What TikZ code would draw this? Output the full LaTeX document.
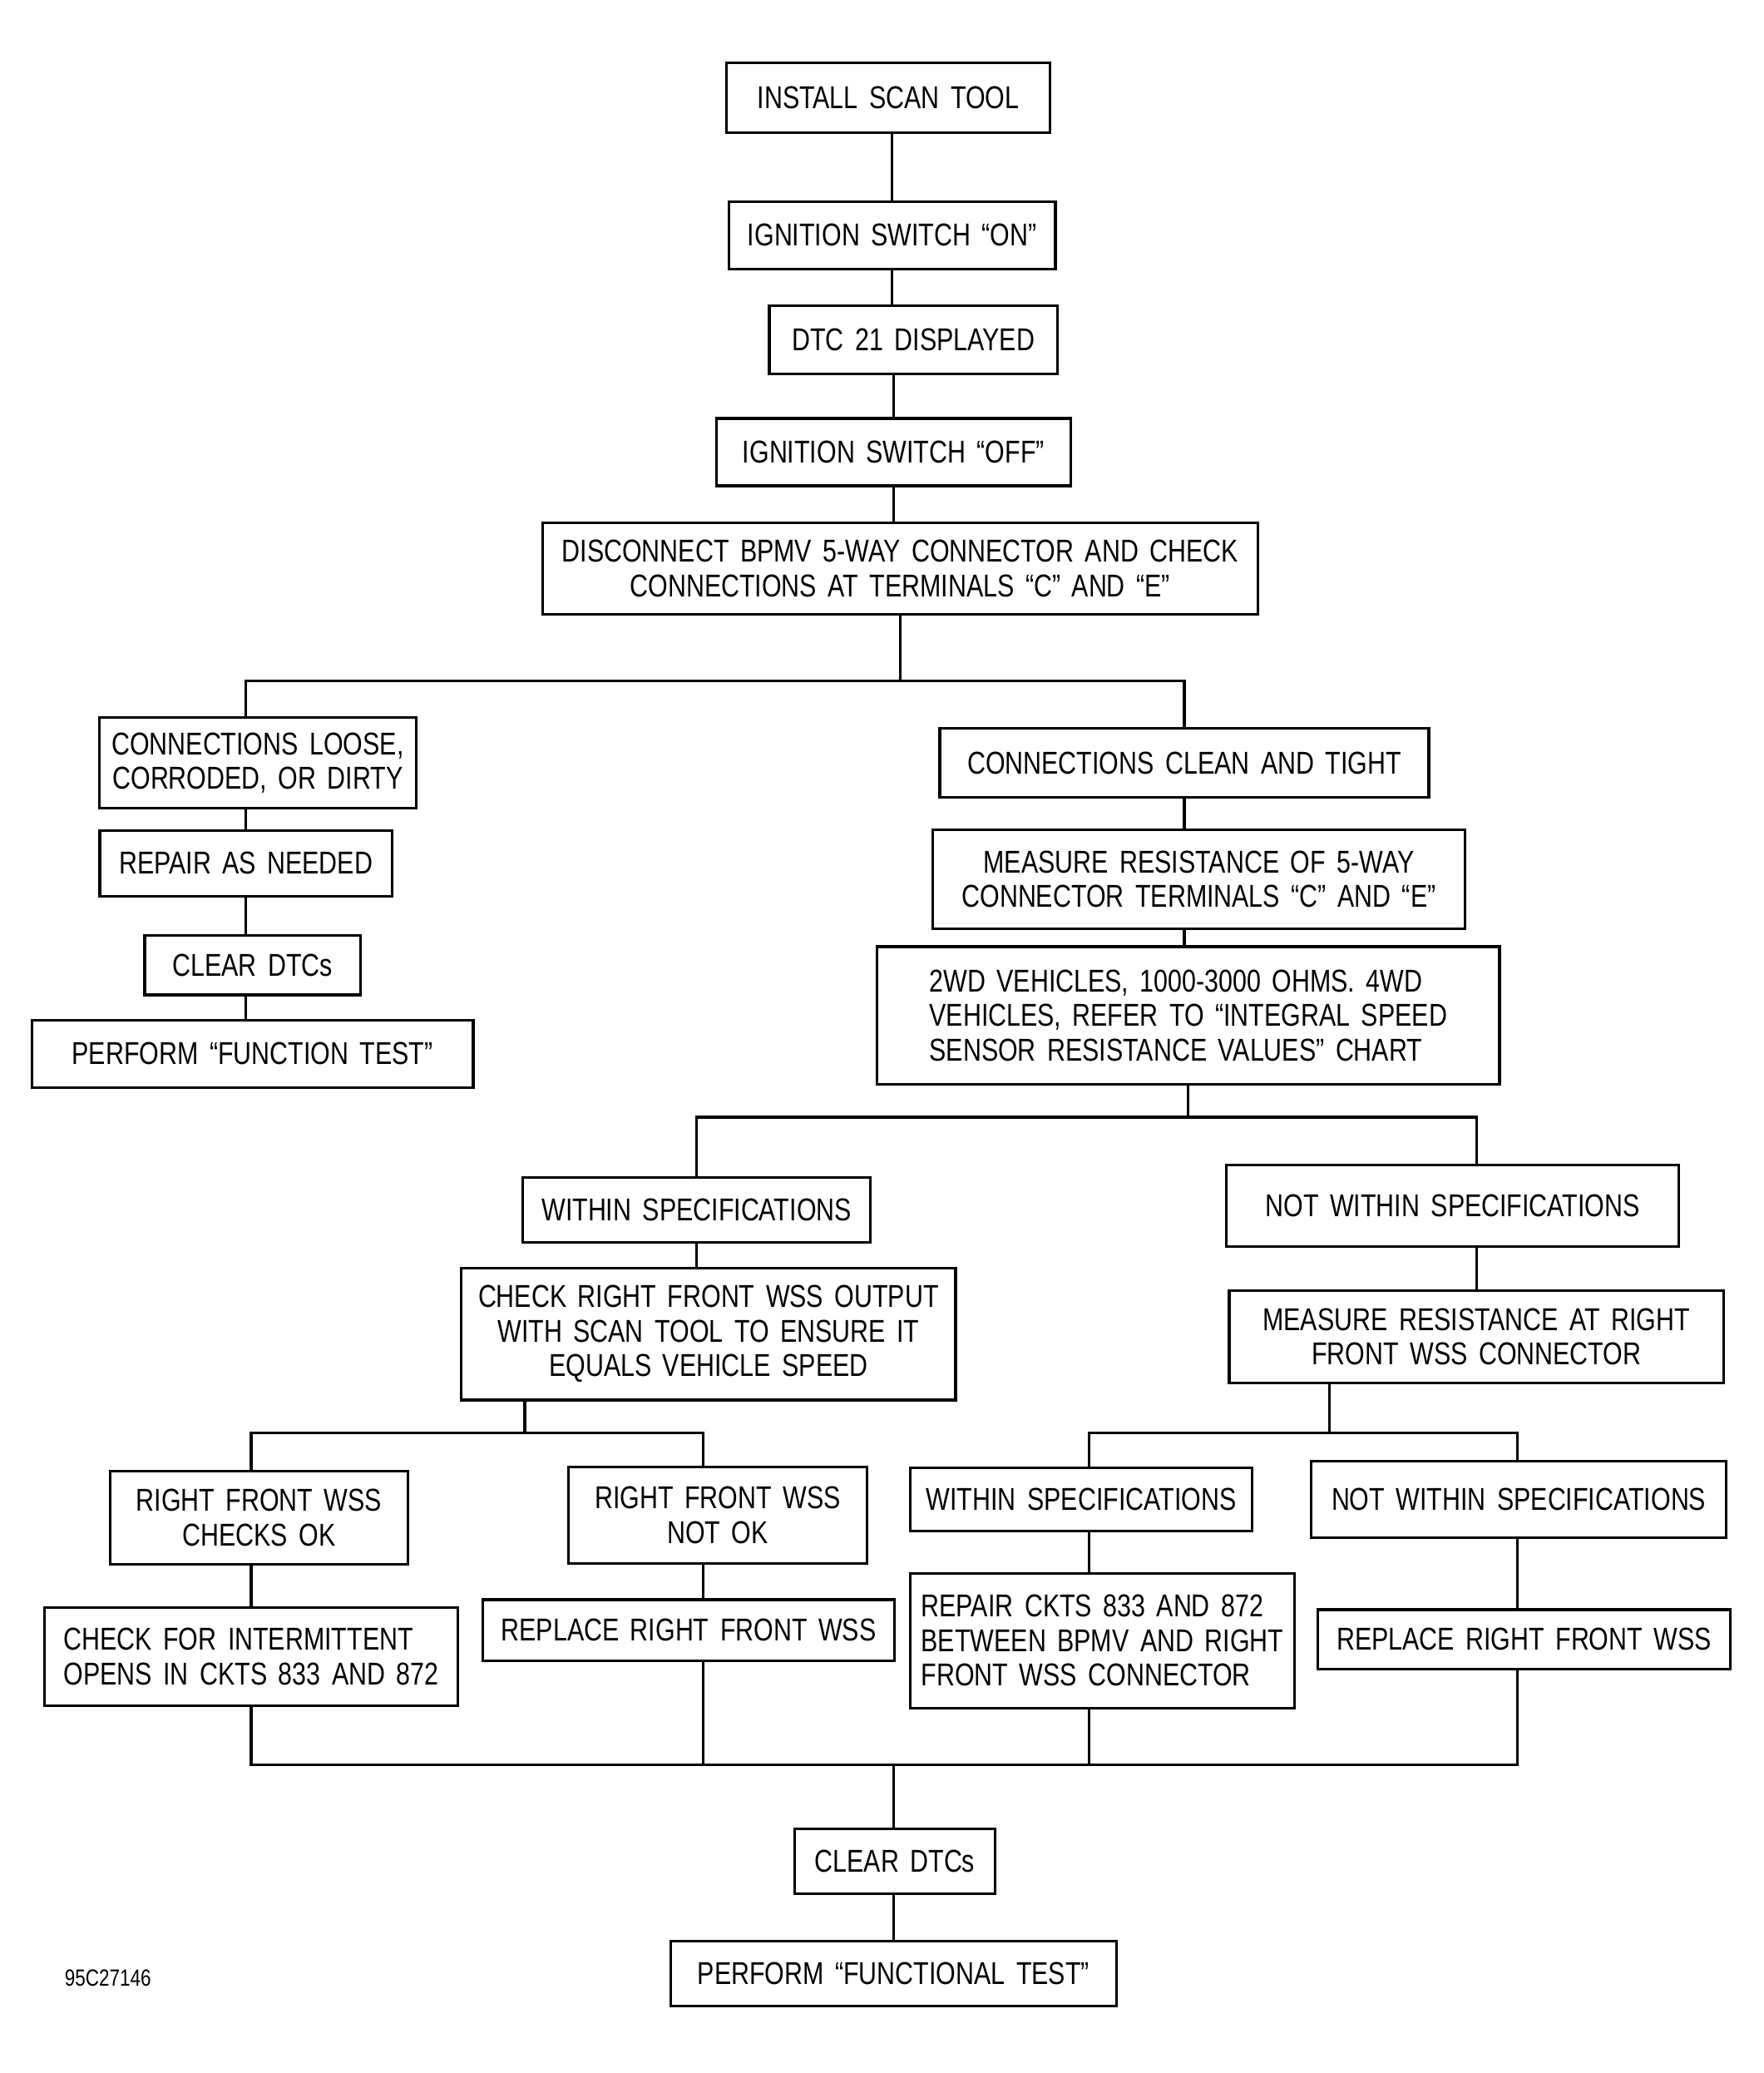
\documentclass[tikz,border=0pt]{standalone}
\usepackage{fontspec}
\setmainfont{Liberation Sans}[FakeStretch=0.8,WordSpace=1.6]
\usepackage{tikz}

\begin{document}
\begin{tikzpicture}[x=0.01589cm, y=-0.01589cm, line width=0.9pt,
  box/.style 2 args={draw, minimum width=#1*0.01589cm, minimum height=#2*0.01589cm,
    inner sep=0pt, align=center, font=\fontsize{10.8}{11.8}\selectfont},
  lbox/.style 2 args={box={#1}{#2}, align=left}]
 \useasboundingbox (0,0) rectangle (1334,1568);

    %Top chain
    \node[box={245}{53}] (install) at (672,74) {INSTALL SCAN TOOL};
    \node[box={247}{51}] (ignon) at (675,178) {IGNITION SWITCH “ON”};
    \node[box={218}{52}] (dtc) at (691,257) {DTC 21 DISPLAYED};
    \node[box={268}{51}] (ignoff) at (676,342) {IGNITION SWITCH “OFF”};
    \node[box={541}{69}] (disc) at (681,430) {DISCONNECT BPMV 5-WAY CONNECTOR AND CHECK\\CONNECTIONS AT TERMINALS “C” AND “E”};
    \draw (ignon) -- (ignon |- install.south);
    \draw (ignon) -- (ignon |- dtc.north);
    \draw (ignoff) -- (ignoff |- dtc.south);
    \draw (ignoff) -- (ignoff |- disc.north);

    % Left branch
    \node[box={240}{69}] (loose) at (195,577) {CONNECTIONS LOOSE,\\CORRODED, OR DIRTY};
    \node[box={221}{50}] (repair) at (186,653) {REPAIR AS NEEDED};
    \node[box={163}{45}] (clearA) at (191,730) {CLEAR DTCs};
    \node[box={334}{51}] (performA) at (191,797) {PERFORM “FUNCTION TEST”};
    \draw (repair) -- (repair |- loose.south);
    \draw (repair) -- (repair |- clearA.north);
    \draw (repair |- clearA.south) -- (repair |- performA.north);

    % Right branch
    \node[box={370}{52}] (clean) at (896,577) {CONNECTIONS CLEAN AND TIGHT};
    \node[box={403}{75}] (measureA) at (907,665) {MEASURE RESISTANCE OF 5-WAY\\CONNECTOR TERMINALS “C” AND “E”};
    \node[lbox={471}{104}] (values) at (899,768) {2WD VEHICLES, 1000-3000 OHMS. 4WD\\VEHICLES, REFER TO “INTEGRAL SPEED\\SENSOR RESISTANCE VALUES” CHART};
    \draw (clean) -- (clean |- measureA.north);
    \draw (clean |- measureA.south) -- (clean |- values.north);

    % first split
    \coordinate (s1) at (681,515);
    \draw (disc) -- (s1);
    \draw (repair |- loose.north) |- (s1) -| (clean);

    % Spec checks
    \node[box={263}{49}] (withinA) at (527,915) {WITHIN SPECIFICATIONS};
    \node[box={374}{100}] (output) at (536,1009) {CHECK RIGHT FRONT WSS OUTPUT\\WITH SCAN TOOL TO ENSURE IT\\EQUALS VEHICLE SPEED};
    \node[box={342}{62}] (notwithinA) at (1099,912) {NOT WITHIN SPECIFICATIONS};
    \node[box={374}{70}] (measureB) at (1117,1011) {MEASURE RESISTANCE AT RIGHT\\FRONT WSS CONNECTOR};
    \draw (withinA) -- (withinA |- output.north);
    \draw (measureB) -- (measureB |- notwithinA.south);

    \coordinate (s2) at (899,845);
    \draw (values) -- (s2);
    \draw (withinA) |- (s2) -| (measureB |- notwithinA.north);

    % Lower left
    \node[box={225}{70}] (checksok) at (196,1148) {RIGHT FRONT WSS\\CHECKS OK};
    \node[lbox={313}{74}] (intermit) at (190,1253) {CHECK FOR INTERMITTENT\\OPENS IN CKTS 833 AND 872};
    \node[box={226}{73}] (notok) at (543,1146) {RIGHT FRONT WSS\\NOT OK};
    \node[box={311}{46}] (replaceA) at (521,1233) {REPLACE RIGHT FRONT WSS};

    \coordinate (s3) at (397,1084);
    \coordinate (s3a) at (190,1084);
    \coordinate (s3b) at (532,1084);
    \draw (s3 |- output.south) -- (s3);
    \draw (s3a |- checksok.north) -- (s3a) -- (s3b) -- (s3b |- notok.north);
    \draw (s3a |- checksok.south) -- (s3a |- intermit.north);
    \draw (s3b |- notok.south) -- (s3b |- replaceA.north);

    % Lower right
    \node[box={259}{48}] (withinB) at (818,1134) {WITHIN SPECIFICATIONS};
    \node[lbox={291}{102}] (repckts) at (834,1241) {REPAIR CKTS 833 AND 872\\BETWEEN BPMV AND RIGHT\\FRONT WSS CONNECTOR};
    \node[box={314}{58}] (notwithinB) at (1149,1134) {NOT WITHIN SPECIFICATIONS};
    \node[box={312}{45}] (replaceB) at (1153,1240) {REPLACE RIGHT FRONT WSS};

    \coordinate (s4) at (1006,1084);
    \coordinate (s4a) at (824,1084);
    \coordinate (s4b) at (1148,1084);
    \draw (s4 |- measureB.south) -- (s4);
    \draw (s4a |- withinB.north) -- (s4a) -- (s4b) -- (s4b |- notwithinB.north);
    \draw (s4a |- withinB.south) -- (s4a |- repckts.north);
    \draw (s4b |- notwithinB.south) -- (s4b |- replaceB.north);

    % Join
    \node[box={152}{49}] (clearB) at (677,1408) {CLEAR DTCs};
    \node[box={337}{49}] (performB) at (676,1493) {PERFORM “FUNCTIONAL TEST”};
    \coordinate (s5) at (676,1335);
    \coordinate (s5a) at (190,1335);
    \coordinate (s5b) at (1148,1335);
    \draw (s5a |- intermit.south) -- (s5a) -- (s5b) -- (s5b |- replaceB.south);
    \draw (s3b |- replaceA.south) -- (s3b |- s5);
    \draw (s4a |- repckts.south) -- (s4a |- s5);
    \draw (s5) -- (s5 |- clearB.north);
    \draw (s5 |- clearB.south) -- (s5 |- performB.north);

    \node[anchor=west, font=\fontsize{8}{9}\selectfont, inner sep=0pt] (figno) at (48,1496) {95C27146};
\end{tikzpicture}
\end{document}
